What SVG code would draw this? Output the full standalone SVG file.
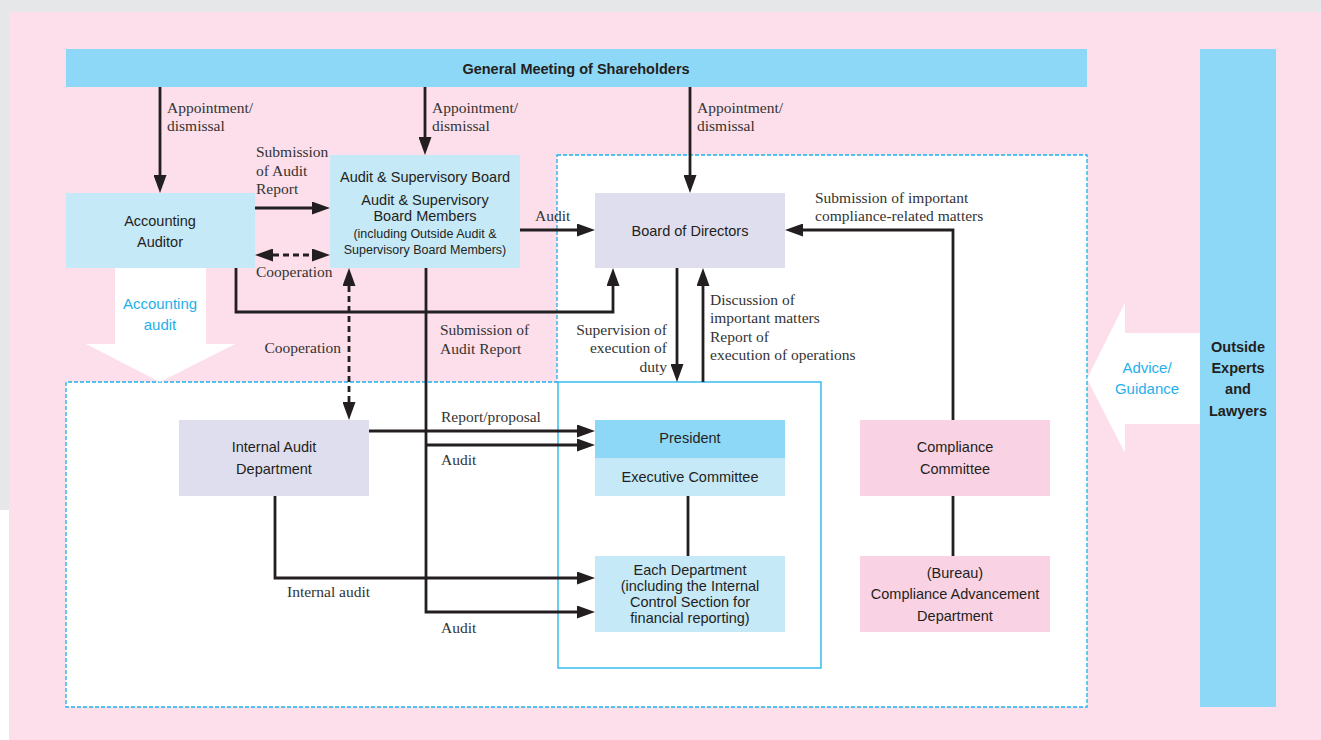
<svg xmlns="http://www.w3.org/2000/svg" width="1321" height="740" viewBox="0 0 1321 740">
<defs>
<marker id="ah" viewBox="0 0 18 13" refX="10" refY="6.5" markerWidth="18" markerHeight="13" markerUnits="userSpaceOnUse" orient="auto-start-reverse"><path d="M0,0 L18,6.5 L0,13 z" fill="#231f20"/></marker>
<style>
.sans{font-family:"Liberation Sans",Arial,sans-serif;fill:#231f20;text-anchor:middle}
.n{font-size:14.5px}
.s{font-size:12.5px}
.b{font-weight:bold;font-size:14.5px}
.blue{fill:#1fb0ea;font-size:15px}
.lab{font-family:"Liberation Serif","Times New Roman",serif;font-size:15.5px;fill:#333}
.end{text-anchor:end}
.c{fill:none;stroke:#231f20;stroke-width:2.8}
.d{stroke-dasharray:6 4}
.ltb{fill:#c6e9f8}
.db{fill:#8ed8f7}
.lav{fill:#dfdeee}
.pk{fill:#f9d3e4}
</style>
</defs>
<rect x="0" y="0" width="1321" height="740" fill="#e6e7e9"/>
<rect x="0" y="510" width="9" height="230" fill="#ffffff"/>
<rect x="9" y="12" width="1312" height="728" fill="#fcdfea"/>
<path d="M557,155 H1087 V707 H66 V382 H557 Z" fill="#ffffff" stroke="#1ab2ec" stroke-width="1.3" stroke-dasharray="4 2"/>
<rect x="558" y="382" width="263" height="286" fill="none" stroke="#1ab2ec" stroke-width="1.3"/>
<polygon points="115,268 206,268 206,344 235,344 160,382 86,344 115,344" fill="#ffffff"/>
<polygon points="1201,333 1125,333 1125,303 1087,379 1125,453 1125,424 1201,424" fill="#ffffff"/>
<text class="sans blue" x="160" y="309">Accounting</text>
<text class="sans blue" x="160" y="330">audit</text>
<text class="sans blue" x="1147" y="373">Advice/</text>
<text class="sans blue" x="1147" y="394">Guidance</text>

<g id="connectors">
<path class="c" d="M160,87 V185" marker-end="url(#ah)"/>
<path class="c" d="M425,87 V147" marker-end="url(#ah)"/>
<path class="c" d="M690,87 V185" marker-end="url(#ah)"/>
<path class="c" d="M255,208 H322" marker-end="url(#ah)"/>
<path class="c d" d="M263,255 H322" marker-start="url(#ah)" marker-end="url(#ah)"/>
<path class="c" d="M236,268 V312 H613 V276" marker-end="url(#ah)"/>
<path class="c" d="M520,230 H587" marker-end="url(#ah)"/>
<path class="c d" d="M349,276 V412" marker-start="url(#ah)" marker-end="url(#ah)"/>
<path class="c" d="M426,268 V612 H587" marker-end="url(#ah)"/>
<path class="c" d="M426,445 H587" marker-end="url(#ah)"/>
<path class="c" d="M369,431 H587" marker-end="url(#ah)"/>
<path class="c" d="M275,496 V578 H587" marker-end="url(#ah)"/>
<path class="c" d="M677,268 V374" marker-end="url(#ah)"/>
<path class="c" d="M703,382 V276" marker-end="url(#ah)"/>
<path class="c" d="M953,420 V230 H793" marker-end="url(#ah)"/>
<path class="c" d="M688,496 V556"/>
<path class="c" d="M953,496 V556"/>
<text class="lab" x="167" y="113">Appointment/</text>
<text class="lab" x="167" y="131">dismissal</text>
<text class="lab" x="432" y="113">Appointment/</text>
<text class="lab" x="432" y="131">dismissal</text>
<text class="lab" x="697" y="113">Appointment/</text>
<text class="lab" x="697" y="131">dismissal</text>
<text class="lab" x="256" y="157">Submission</text>
<text class="lab" x="256" y="176">of Audit</text>
<text class="lab" x="256" y="194">Report</text>
<text class="lab" x="256" y="277">Cooperation</text>
<text class="lab" x="535" y="221">Audit</text>
<text class="lab end" x="341" y="353">Cooperation</text>
<text class="lab" x="440" y="335">Submission of</text>
<text class="lab" x="440" y="354">Audit Report</text>
<text class="lab" x="441" y="422">Report/proposal</text>
<text class="lab" x="441" y="465">Audit</text>
<text class="lab" x="287" y="597">Internal audit</text>
<text class="lab" x="441" y="633">Audit</text>
<text class="lab end" x="667" y="335">Supervision of</text>
<text class="lab end" x="667" y="353">execution of</text>
<text class="lab end" x="667" y="372">duty</text>
<text class="lab" x="710" y="305">Discussion of</text>
<text class="lab" x="710" y="323">important matters</text>
<text class="lab" x="710" y="342">Report of</text>
<text class="lab" x="710" y="360">execution of operations</text>
<text class="lab" x="815" y="203">Submission of important</text>
<text class="lab" x="815" y="221">compliance-related matters</text>
</g>

<g id="shareholders">
<rect class="db" x="66" y="49" width="1021" height="38"/>
<text class="sans b" x="576" y="74">General Meeting of Shareholders</text>
</g>
<g id="outside-experts">
<rect class="db" x="1200" y="49" width="76" height="658"/>
<text class="sans b" x="1238" y="352">Outside</text>
<text class="sans b" x="1238" y="373">Experts</text>
<text class="sans b" x="1238" y="394">and</text>
<text class="sans b" x="1238" y="416">Lawyers</text>
</g>
<g id="accounting-auditor">
<rect class="ltb" x="66" y="193" width="189" height="75"/>
<text class="sans n" x="160" y="226">Accounting</text>
<text class="sans n" x="160" y="247">Auditor</text>
</g>
<g id="audit-board">
<rect class="ltb" x="330" y="155" width="190" height="113"/>
<text class="sans n" x="425" y="182">Audit &amp; Supervisory Board</text>
<text class="sans n" x="425" y="205">Audit &amp; Supervisory</text>
<text class="sans n" x="425" y="221">Board Members</text>
<text class="sans s" x="425" y="238">(including Outside Audit &amp;</text>
<text class="sans s" x="425" y="254">Supervisory Board Members)</text>
</g>
<g id="board-of-directors">
<rect class="lav" x="595" y="193" width="190" height="75"/>
<text class="sans n" x="690" y="236">Board of Directors</text>
</g>
<g id="internal-audit">
<rect class="lav" x="179" y="420" width="190" height="76"/>
<text class="sans n" x="274" y="452">Internal Audit</text>
<text class="sans n" x="274" y="474">Department</text>
</g>
<g id="president">
<rect class="db" x="595" y="420" width="190" height="38"/>
<text class="sans n" x="690" y="443">President</text>
</g>
<g id="executive-committee">
<rect class="ltb" x="595" y="458" width="190" height="38"/>
<text class="sans n" x="690" y="482">Executive Committee</text>
</g>
<g id="each-department">
<rect class="ltb" x="595" y="556" width="190" height="76"/>
<text class="sans n" x="690" y="575">Each Department</text>
<text class="sans n" x="690" y="591">(including the Internal</text>
<text class="sans n" x="690" y="607">Control Section for</text>
<text class="sans n" x="690" y="623">financial reporting)</text>
</g>
<g id="compliance-committee">
<rect class="pk" x="860" y="420" width="190" height="76"/>
<text class="sans n" x="955" y="452">Compliance</text>
<text class="sans n" x="955" y="474">Committee</text>
</g>
<g id="compliance-advancement">
<rect class="pk" x="860" y="556" width="190" height="76"/>
<text class="sans n" x="955" y="578">(Bureau)</text>
<text class="sans n" x="955" y="599">Compliance Advancement</text>
<text class="sans n" x="955" y="621">Department</text>
</g>
</svg>
